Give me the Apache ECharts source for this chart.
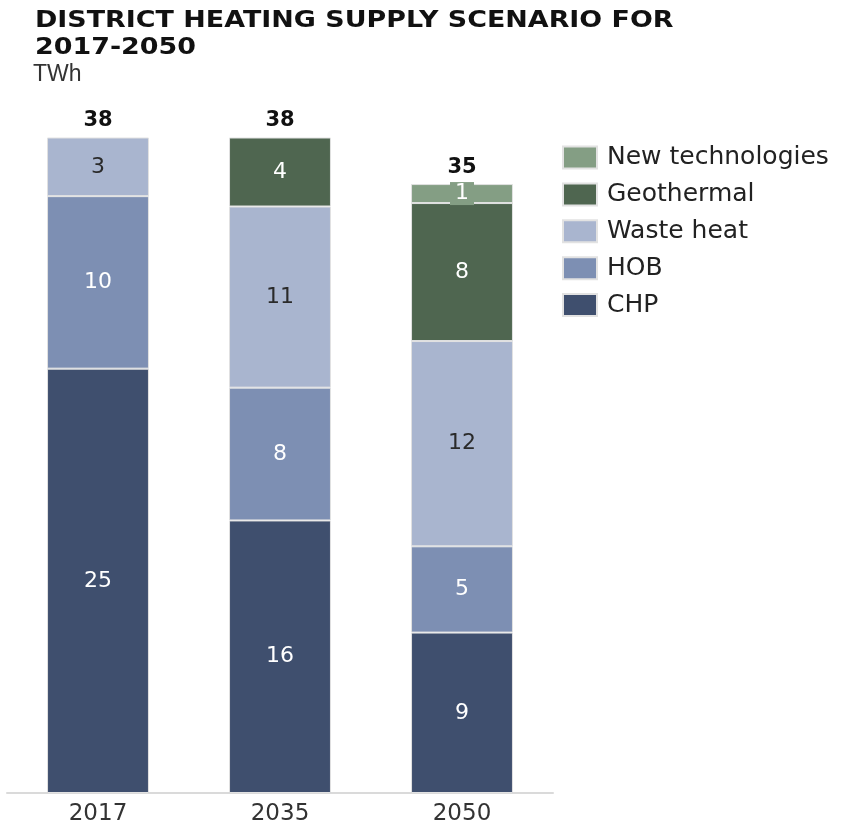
<!DOCTYPE html>
<html><head><meta charset="utf-8">
<script src="https://cdn.jsdelivr.net/npm/echarts@6/dist/echarts.min.js"></script>
<style>html,body{margin:0;padding:0;background:#fff}#c{width:843px;height:827px}</style>
</head><body><div id="c"></div>
<script>
const categories = ['2017', '2035', '2050'];
const chp = [24.6, 15.8, 9.3];
const hob = [10.0, 7.7, 5.0];
const wasteHeat = [3.4, 10.5, 11.9];
const geothermal = [0, 4.0, 8.0];
const newTech = [0, 0, 1.1];
const totals = [38, 38, 35];
const seriesNames = ['CHP', 'HOB', 'Waste heat', 'Geothermal', 'New technologies'];
const legendOrder = ['New technologies', 'Geothermal', 'Waste heat', 'HOB', 'CHP'];
const titleText = 'DISTRICT HEATING SUPPLY SCENARIO FOR\n2017-2050';
const unitText = 'TWh';

const colors = {
  'CHP': '#3f4f6e', 'HOB': '#7d8fb3', 'Waste heat': '#a9b5cf',
  'Geothermal': '#4f6650', 'New technologies': '#849e84'
};
const labelColors = {
  'CHP': '#fff', 'HOB': '#fff', 'Waste heat': '#2a2a2a', 'Geothermal': '#fff', 'New technologies': '#fff'
};
const dataMap = {'CHP': chp, 'HOB': hob, 'Waste heat': wasteHeat, 'Geothermal': geothermal, 'New technologies': newTech};
const FONT = 'DejaVu Sans';

const series = seriesNames.map(n => ({
  name: n, type: 'bar', stack: 'a', barWidth: '56%',
  data: dataMap[n].map(v => v === 0 ? null : v),
  itemStyle: {color: colors[n], borderColor: '#e2e2e2', borderWidth: 1},
  label: {
    show: true, position: 'inside', color: labelColors[n], fontFamily: FONT, fontSize: 22,
    formatter: p => Math.round(p.value),
    backgroundColor: n === 'New technologies' ? colors[n] : 'transparent',
    padding: n === 'New technologies' ? [1, 5, 0, 5] : 0
  }
}));
series.push({
  name: 'total', type: 'bar', stack: 'a', data: totals.map(() => 0),
  itemStyle: {color: 'transparent'},
  label: {show: true, position: 'top', distance: 6, color: '#111', fontFamily: FONT, fontWeight: 'bold', fontSize: 21,
    formatter: p => totals[p.dataIndex]}
});

const chart = echarts.init(document.getElementById('c'));
chart.setOption({
  animation: false,
  graphic: [
    {type: 'text', x: 35, y: 8, scaleX: 1.17,
     style: {text: titleText, fontFamily: FONT, fontWeight: 'bold', fontSize: 23, lineHeight: 27, fill: '#111'}},
    {type: 'text', x: 33, y: 62,
     style: {text: unitText, fontFamily: 'Liberation Sans', fontSize: 23, lineHeight: 26, fill: '#333'}}
  ],
  legend: {
    data: legendOrder, orient: 'vertical', left: 557, top: 140,
    icon: 'rect', itemWidth: 34, itemHeight: 22, itemGap: 11.9,
    textStyle: {fontFamily: FONT, fontSize: 25, color: '#222', padding: [0, 0, 0, 5]},
    selectedMode: false
  },
  grid: {left: 7, right: 290, top: 103, bottom: 34, containLabel: false},
  xAxis: {
    type: 'category', data: categories,
    axisLine: {lineStyle: {color: '#dadada', width: 2}},
    axisTick: {show: false},
    axisLabel: {fontFamily: FONT, fontSize: 23, color: '#333', margin: 10}
  },
  yAxis: {type: 'value', min: 0, max: 40, show: false, splitLine: {show: false}},
  series: series
});
</script></body></html>
